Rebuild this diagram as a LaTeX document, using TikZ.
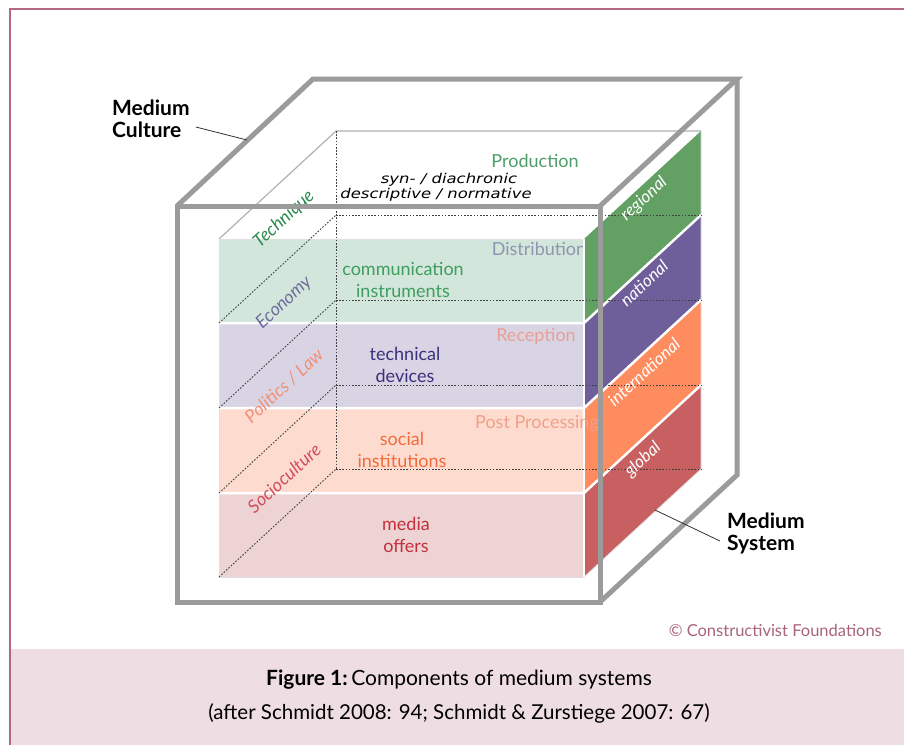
\documentclass[tikz,border=0pt]{standalone}
\usepackage{fontspec}
\setmainfont{Lato}
\newfontfamily\handfont{DejaVu Sans}[FakeStretch=1.22]
\usetikzlibrary{calc}

\definecolor{framec}{HTML}{B5677F}
\definecolor{bandc}{HTML}{EEDDE3}
\definecolor{cubec}{HTML}{9B9B9B}
\definecolor{thinc}{HTML}{B0B0B0}
% front layer tints
\definecolor{lyrG}{HTML}{D3E6DB}
\definecolor{lyrP}{HTML}{D8D4E4}
\definecolor{lyrO}{HTML}{FDDCCF}
\definecolor{lyrR}{HTML}{EDD3D3}
% side panels
\definecolor{panG}{HTML}{62A063}
\definecolor{panP}{HTML}{6E5F9B}
\definecolor{panO}{HTML}{FF8C5E}
\definecolor{panR}{HTML}{C86062}
% text colours
\definecolor{txG}{HTML}{3E9E5E}
\definecolor{txP}{HTML}{3C2F7C}
\definecolor{txO}{HTML}{F26B3A}
\definecolor{txR}{HTML}{C2303C}
\definecolor{prodc}{HTML}{4F9D6B}
\definecolor{distc}{HTML}{8E95B0}
\definecolor{recc}{HTML}{E8A095}
\definecolor{postc}{HTML}{F0A088}
\definecolor{techc}{HTML}{2E8B50}
\definecolor{econc}{HTML}{6E6E9E}
\definecolor{polc}{HTML}{F0907A}
\definecolor{socc}{HTML}{D05060}
\definecolor{copyc}{HTML}{A86478}

\tikzset{
  outeredge/.style={draw=cubec, line width=5pt, line join=miter},
  inneredge/.style={draw=thinc, line width=1.2pt},
  hidden/.style={draw=black!75, line width=0.9pt, dash pattern=on 1.6pt off 1.6pt},
  sepline/.style={draw=white, line width=2.5pt},
  rim/.style={draw=black!12, line width=0.8pt},
  lbl/.style={inner sep=0pt, font=\fontsize{18}{22}\selectfont, align=center},
  rightlbl/.style={inner sep=0pt, font=\fontsize{18}{22}\selectfont},
  facelbl/.style={inner sep=0pt, rotate=42.7, font=\fontsize{18}{20}\selectfont\itshape},
  sidelbl/.style={inner sep=0pt, rotate=42.7, text=white, font=\fontsize{17}{19}\selectfont\itshape},
  headlbl/.style={inner sep=0pt, font=\fontsize{21}{22}\selectfont\bfseries, align=left},
  handlbl/.style={inner sep=0pt, font=\handfont\fontsize{13.5}{14}\selectfont\itshape},
}

\begin{document}
\begin{tikzpicture}[x=1pt,y=-1pt]
\useasboundingbox (0,0) rectangle (904,745);
\fill[white] (0,0) rectangle (904,745);

% caption band and frame
\fill[bandc] (11,649) rectangle (904,745);
\draw[framec, line width=1.5pt] (904,9) -- (10,9) -- (10,745);

% outer cube vertices
\coordinate (F1) at (177,206);
\coordinate (F2) at (600,206);
\coordinate (F3) at (600,602);
\coordinate (F4) at (177,602);
\coordinate (B1) at (313,79);
\coordinate (B2) at (737,79);
\coordinate (B3) at (737,475);

% inner cube: top edges
\draw[inneredge] (219,239) -- (336,131) -- (701,131);

% front layers
\fill[lyrG] (219,239) rectangle (584,323);
\fill[lyrP] (219,323) rectangle (584,408);
\fill[lyrO] (219,408) rectangle (584,493);
\fill[lyrR] (219,493) rectangle (584,577);
\draw[rim] (219,239) rectangle (584,577);

% stage labels
\node[rightlbl, text=prodc] (prod) at (535,161) {Production};
\node[rightlbl, text=distc] (dist) at (539,249) {Distribution};
\node[rightlbl, text=recc] (rec) at (536,336) {Reception};

% components
\node[lbl, text=txG] (comm) at (403,280) {communication\\instruments};
\node[lbl, text=txP] (tech) at (405,365) {technical\\devices};
\node[lbl, text=txO] (soc) at (402,450) {social\\institutions};
\node[lbl, text=txR] (media) at (406,535) {media\\offers};

% side panels
\fill[panG] (584,239) -- (701,131) -- (701,215) -- (584,323) -- cycle;
\fill[panP] (584,323) -- (701,215) -- (701,300) -- (584,408) -- cycle;
\fill[panO] (584,408) -- (701,300) -- (701,385) -- (584,493) -- cycle;
\fill[panR] (584,493) -- (701,385) -- (701,469) -- (584,577) -- cycle;
\draw[rim] (701,131) -- (701,469) -- (584,577);

% white separators between layers
\foreach \y in {323,408,493} {
  \draw[sepline] (219,\y) -- (584,\y) -- ($(584,\y)+(117,-108)$);
}
\draw[draw=white, line width=1.2pt] (584,239) -- (584,577);

\node[rightlbl, text=postc] (post) at (537,424) {Post Processing};

% hidden edges of the inner cube
\draw[hidden] (336,131) -- (336,469);
\foreach \y in {215,300,385,469} {
  \draw[hidden] (336,\y) -- (701,\y);
}
\foreach \y in {323,408,493,577} {
  \draw[hidden] (219,\y) -- ($(219,\y)+(117,-108)$);
}

% perspective labels
\node[handlbl] (syn) at (449,180) {syn- / diachronic};
\node[handlbl] (desc) at (436,195) {descriptive / normative};

% dimension labels on the left face
\node[facelbl, text=techc] (techn) at (284,219) {Technique};
\node[facelbl, text=econc] (econ) at (284,303) {Economy};
\node[facelbl, text=polc] (pol) at (284,386) {Politics / Law};
\node[facelbl, text=socc] (socio) at (284,478) {Socioculture};

% scope labels on the side panels
\node[sidelbl] (reg) at (644,199) {regional};
\node[sidelbl] (nat) at (644,283) {national};
\node[sidelbl] (intl) at (644,372) {international};
\node[sidelbl] (glob) at (643,460) {global};

% outer cube
\draw[outeredge] (F1) rectangle (F3);
\draw[outeredge] (F1) -- (B1) -- (B2) -- (F2);
\draw[outeredge] (B2) -- (B3) -- (F3);

% outer labels with leaders
\node[headlbl, anchor=west] (mcult) at (112,119) {Medium\\Culture};
\coordinate (mcultEnd) at (247,140);
\draw[black!80, line width=0.8pt] ([shift={(6pt,-8pt)}]mcult.east) -- (mcultEnd);

\node[headlbl, anchor=west] (msys) at (727,533) {Medium\\System};
\coordinate (msysEnd) at (655,510);
\draw[black!80, line width=0.8pt] ([shift={(-7pt,-8pt)}]msys.west) -- (msysEnd);

% credit and caption
\node[inner sep=0pt, anchor=east, text=copyc, font=\fontsize{16.5}{18}\selectfont] (copy) at (882,630) {\textcopyright\ Constructivist Foundations};
\node[inner sep=0pt, font=\fontsize{21}{24}\selectfont] (cap1) at (459,680) {\textbf{Figure 1:}\,Components of medium systems};
\node[inner sep=0pt, font=\fontsize{20.5}{24}\selectfont] (cap2) at (459,713) {(after Schmidt 2008: 94; Schmidt \& Zurstiege 2007: 67)};
\end{tikzpicture}
\end{document}
